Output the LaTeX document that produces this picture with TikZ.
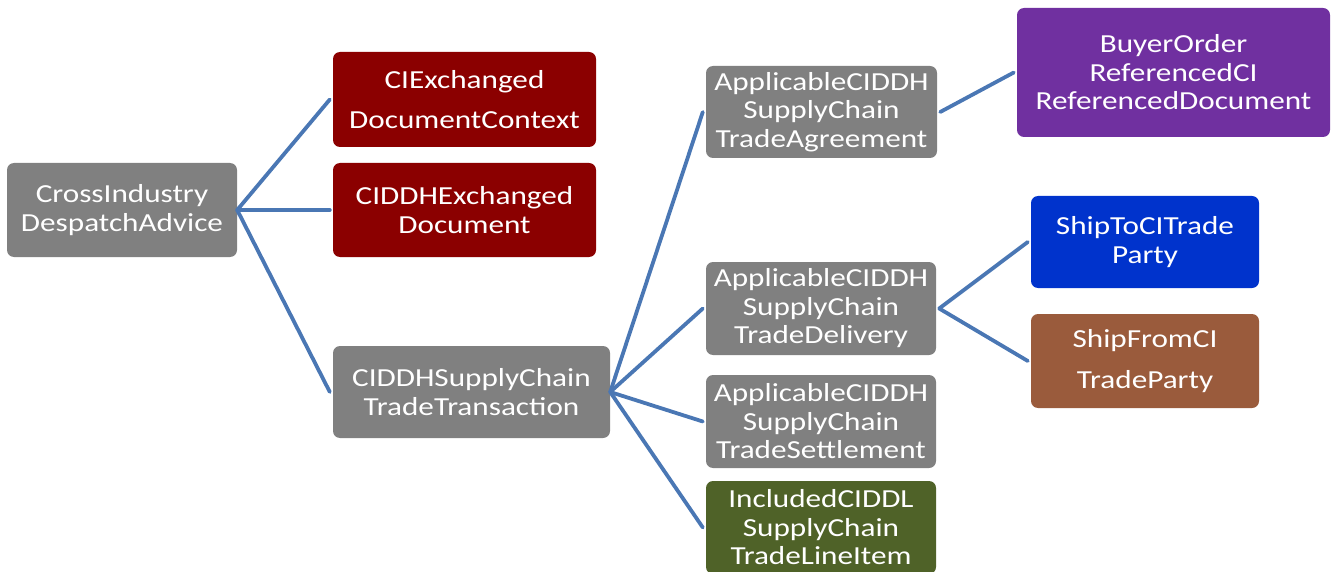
\documentclass[tikz,border=0pt]{standalone}
\usepackage{fontspec}
\setmainfont{Carlito}[FakeStretch=1.2]
\definecolor{boxgray}{HTML}{808080}
\definecolor{boxred}{HTML}{8B0000}
\definecolor{boxpurple}{HTML}{7030A0}
\definecolor{boxblue}{HTML}{0033CC}
\definecolor{boxbrown}{HTML}{9A5B3C}
\definecolor{boxgreen}{HTML}{4F6228}
\definecolor{linkblue}{HTML}{4A77B4}
\tikzset{
  box/.style={rounded corners=7pt, text=white, align=center, inner sep=0pt,
    font=\fontsize{26}{28.5}\selectfont},
  conn/.style={draw=linkblue, line width=3.8pt, line cap=round}
}
\begin{document}
\begin{tikzpicture}[x=1pt,y=-1pt]
\useasboundingbox (0,0) rectangle (1336,572);
\node[box, fill=boxgray, minimum width=230pt, minimum height=94pt] (root) at (122,210) {CrossIndustry\\DespatchAdvice};
\node[box, fill=boxred, minimum width=263pt, minimum height=95pt] (ciex) at (464.5,99.5) {CIExchanged\\[12pt]DocumentContext};
\node[box, fill=boxred, minimum width=263pt, minimum height=94pt] (ciddhex) at (464.5,210) {CIDDHExchanged\\Document};
\node[box, fill=boxgray, minimum width=277pt, minimum height=92pt] (trans) at (471.5,392) {CIDDHSupplyChain\\TradeTransaction};
\node[box, fill=boxgray, minimum width=231pt, minimum height=92pt] (agree) at (821.5,112) {ApplicableCIDDH\\SupplyChain\\TradeAgreement};
\node[box, fill=boxgray, minimum width=230pt, minimum height=93pt] (deliv) at (821,308.5) {ApplicableCIDDH\\SupplyChain\\TradeDelivery};
\node[box, fill=boxgray, minimum width=230pt, minimum height=93pt] (settle) at (821,421.5) {ApplicableCIDDH\\SupplyChain\\TradeSettlement};
\node[box, fill=boxgreen, minimum width=230pt, minimum height=93pt] (incl) at (821,527.5) {IncludedCIDDL\\SupplyChain\\TradeLineItem};
\node[box, fill=boxpurple, minimum width=313pt, minimum height=129pt] (buyer) at (1173.5,72.5) {BuyerOrder\\ReferencedCI\\ReferencedDocument};
\node[box, fill=boxblue, minimum width=228pt, minimum height=92pt] (shipto) at (1145,242) {ShipToCITrade\\Party};
\node[box, fill=boxbrown, minimum width=228pt, minimum height=94pt] (shipfrom) at (1145,361) {ShipFromCI\\[12pt]TradeParty};
\draw[conn] (root.east) -- ([xshift=-3pt]ciex.west);
\draw[conn] (root.east) -- ([xshift=-3pt]ciddhex.west);
\draw[conn] (root.east) -- ([xshift=-3pt]trans.west);
\draw[conn] (trans.east) -- ([xshift=-3pt]agree.west);
\draw[conn] (trans.east) -- ([xshift=-3pt]deliv.west);
\draw[conn] (trans.east) -- ([xshift=-3pt]settle.west);
\draw[conn] (trans.east) -- ([xshift=-3pt]incl.west);
\draw[conn] ([xshift=3pt]agree.east) -- ([xshift=-3pt]buyer.west);
\draw[conn] ([xshift=3pt]deliv.east) -- ([xshift=-3pt]shipto.west);
\draw[conn] ([xshift=3pt]deliv.east) -- ([xshift=-3pt]shipfrom.west);
\end{tikzpicture}
\end{document}
